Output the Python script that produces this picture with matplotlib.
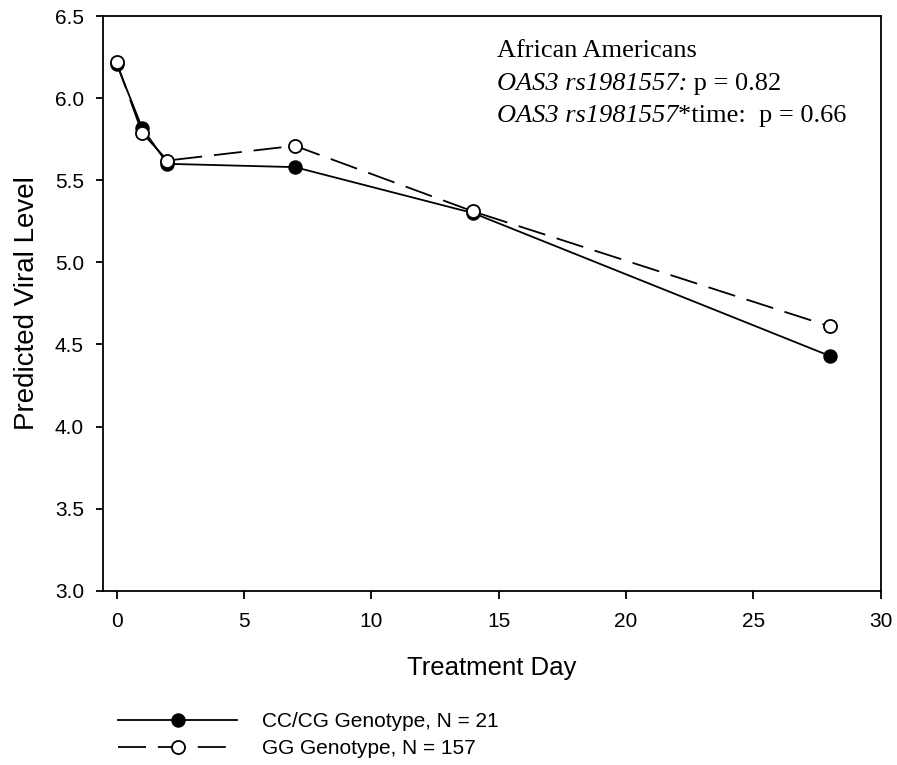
import numpy as np
import matplotlib.pyplot as plt
from matplotlib.lines import Line2D

# Data
days = [0, 1, 2, 7, 14, 28]
cc_cg = [6.21, 5.82, 5.60, 5.58, 5.30, 4.43]
gg = [6.22, 5.79, 5.62, 5.71, 5.31, 4.61]
labels = ['CC/CG Genotype, N = 21', 'GG Genotype, N = 157']

sans = ['Liberation Sans', 'DejaVu Sans']
serif = ['Liberation Serif', 'DejaVu Serif']
dash = (0, (15.5, 6.6))

fig = plt.figure(figsize=(8.97, 7.65), dpi=100)
ax = fig.add_axes([0.1143, 0.2278, 0.8676, 0.7512])

ax.plot(days, cc_cg, color='black', lw=1.3, marker='o', ms=9.4,
        mfc='black', mec='black', zorder=3)
ax.plot(days, gg, color='black', lw=1.3, ls=dash, marker='o', ms=9.4,
        mfc='white', mec='black', mew=1.3, zorder=4)

ax.set_xlim(-0.55, 30)
ax.set_ylim(3.0, 6.5)
ax.set_xticks(np.arange(0, 31, 5))
ax.set_yticks(np.arange(3.0, 6.51, 0.5))
ax.set_yticklabels(['%.1f' % v for v in np.arange(3.0, 6.51, 0.5)])
ax.tick_params(direction='out', length=5.4, width=1.3, labelsize=15)
ax.tick_params(axis='x', pad=10)
ax.tick_params(axis='y', pad=8)
for lab in ax.get_xticklabels() + ax.get_yticklabels():
    lab.set_family(sans)
for sp in ax.spines.values():
    sp.set_linewidth(1.3)

ax.set_xlabel('Treatment Day', fontsize=18.5, family=sans, labelpad=18)
ax.set_ylabel('Predicted Viral Level', fontsize=20, family=sans, labelpad=11)

# annotation block (mixed italic / roman)
fs = 19
t1 = fig.text(497 / 897, 1 - 57 / 765, 'African Americans', fontsize=fs, family=serif)
t2 = fig.text(497 / 897, 1 - 90 / 765, 'OAS3 rs1981557:', fontsize=fs, family=serif, style='italic')
ax.annotate(' p = 0.82', xy=(1, 0), xycoords=t2, fontsize=fs, family=serif, va='bottom')
t3 = fig.text(497 / 897, 1 - 122 / 765, 'OAS3 rs1981557', fontsize=fs, family=serif, style='italic')
ax.annotate('*time:  p = 0.66', xy=(1, 0), xycoords=t3, fontsize=fs, family=serif, va='bottom')

# legend below the plot
handles = [
    Line2D([], [], color='black', lw=1.3, marker='o', ms=9.4, mfc='black', mec='black'),
    Line2D([], [], color='black', lw=1.3, ls=dash, marker='o', ms=9.4,
           mfc='white', mec='black', mew=1.3),
]
fig.legend(handles, labels, loc='center left', bbox_to_anchor=(0.111, 0.039),
           frameon=False, handlelength=5.7, handletextpad=1.2, labelspacing=0.4,
           prop={'family': sans, 'size': 15})

plt.savefig('out.png', dpi=100)
